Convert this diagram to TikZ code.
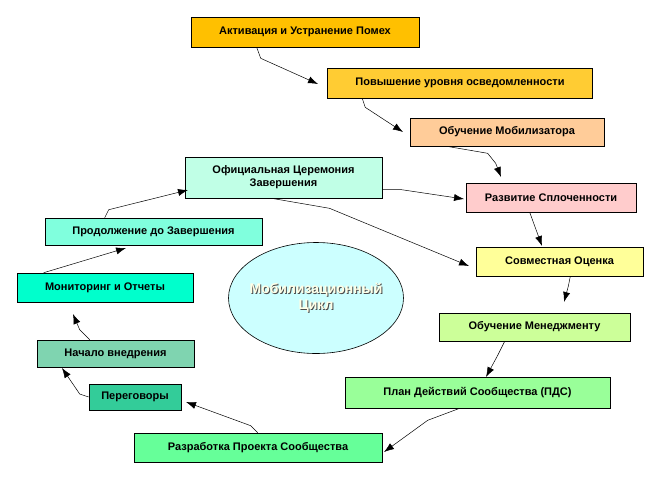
\documentclass[tikz,border=0pt]{standalone}
\usepackage{fontspec}
\setmainfont{Liberation Sans}
\usetikzlibrary{positioning,shapes,backgrounds,arrows.meta}
\begin{document}
\begin{tikzpicture}[x=1pt,y=-1pt, background rectangle/.style={fill=white}, show background rectangle]
    \tikzset{
        mybox/.style = {rectangle, draw=black, line width=0.6pt, inner sep=0pt, font=\fontsize{11}{13}\selectfont\bfseries, align=center},
        arrow/.style = {line width=0.5pt,-{Latex[length=3.5mm,width=2.5mm]}}
    }
    \useasboundingbox (0,0) rectangle (669,483);
    \definecolor{c1}{HTML}{FFC000}
    \definecolor{c2}{HTML}{FFCC33}
    \definecolor{c3}{HTML}{FFCC99}
    \definecolor{c4}{HTML}{FFCCCC}
    \definecolor{c5}{HTML}{FFFF99}
    \definecolor{c6}{HTML}{CCFF99}
    \definecolor{c7}{HTML}{99FF99}
    \definecolor{c8}{HTML}{66FF99}
    \definecolor{c9}{HTML}{33CC99}
    \definecolor{c10}{HTML}{7FD4B0}
    \definecolor{c11}{HTML}{00FFCC}
    \definecolor{c12}{HTML}{80FFDD}
    \definecolor{c13}{HTML}{C0FFE6}
    \definecolor{cell}{HTML}{CCFFFF}
    \node (aktiv) [mybox, fill=c1, minimum width=228, minimum height=30] at (305,32) {Активация и Устранение Помех};
    \node (povysh) [mybox, fill=c2, minimum width=265, minimum height=30] at (460,83) {Повышение уровня осведомленности};
    \node (obmob) [mybox, fill=c3, minimum width=194, minimum height=28] at (507,132) {Обучение Мобилизатора};
    \node (razv) [mybox, fill=c4, minimum width=170, minimum height=29] at (551,197.5) {Развитие Сплоченности};
    \node (sovm) [mybox, fill=c5, minimum width=167, minimum height=29] at (559.5,261.5) {Совместная Оценка};
    \node (obmen) [mybox, fill=c6, minimum width=191, minimum height=28] at (534.5,327) {Обучение Менеджменту};
    \node (plan) [mybox, fill=c7, minimum width=265, minimum height=31] at (477.5,392.5) {План Действий Сообщества (ПДС)};
    \node (razr) [mybox, fill=c8, minimum width=248, minimum height=29] at (258,447.5) {Разработка Проекта Сообщества};
    \node (pereg) [mybox, fill=c9, minimum width=92, minimum height=26] at (135,397) {Переговоры};
    \node (nach) [mybox, fill=c10, minimum width=157, minimum height=27] at (115.5,353.5) {Начало внедрения};
    \node (monit) [mybox, fill=c11, minimum width=176, minimum height=29] at (105,287.5) {Мониторинг и Отчеты};
    \node (prod) [mybox, fill=c12, minimum width=217, minimum height=27] at (153.5,231.5) {Продолжение до Завершения};
    \node (ofic) [mybox, fill=c13, minimum width=197, minimum height=41] at (283.5,177.5) {Официальная Церемония\\Завершения};
    \node (cycle) [ellipse, draw=black, line width=0.6pt, fill=cell, minimum width=175, minimum height=111] at (316,298) {};
    \node [text=black!70, font=\fontsize{14}{16}\selectfont\bfseries, align=center] at (317,299) {Мобилизационный\\Цикл};
    \node [text=yellow!10, font=\fontsize{14}{16}\selectfont\bfseries, align=center] at (316,298) {Мобилизационный\\Цикл};

    % connectors of the cycle
    \draw [arrow] (aktiv.south west) ++(66,0) -- ++(4,11) -- (318,84);
    \draw [arrow] (povysh.south west) ++(35,0) -- ++(3,9) -- (403,132);
    \draw [arrow] (obmob.south west) ++(37,0) -- ++(41,7) -- ++(8,10) -- (501,177);
    \draw [arrow] (ofic.east) ++(0,12) -- ++(18,0) -- (464,199);
    \draw [arrow] (ofic.south) ++(-12,0) -- ++(58,10) -- (469,266);
    \draw [arrow] (razv.south west) ++(64,0) -- (542,246);
    \draw [arrow] (sovm.south east) ++(-73,0) -- ++(-2,10) -- (564,302);
    \draw [arrow] (obmen.south west) ++(66,0) -- ++(-7,14) -- (486,377);
    \draw [arrow] (plan.south west) ++(115,0) -- ++(-32,12) -- (384,452);
    \draw [arrow] (razr.north west) ++(124,0) -- ++(-7,-7) -- (186,402);
    \draw [arrow] (pereg.west) -- ++(-9,-3) -- (62,368);
    \draw [arrow] (nach.north west) ++(53,0) -- ++(-10,-10) -- (73,314);
    \draw [arrow] (monit.north west) ++(27,0) -- (126,248);
    \draw [arrow] (prod.north west) ++(60,0) -- ++(4,-8) -- (188,190);
\end{tikzpicture}
\end{document}
